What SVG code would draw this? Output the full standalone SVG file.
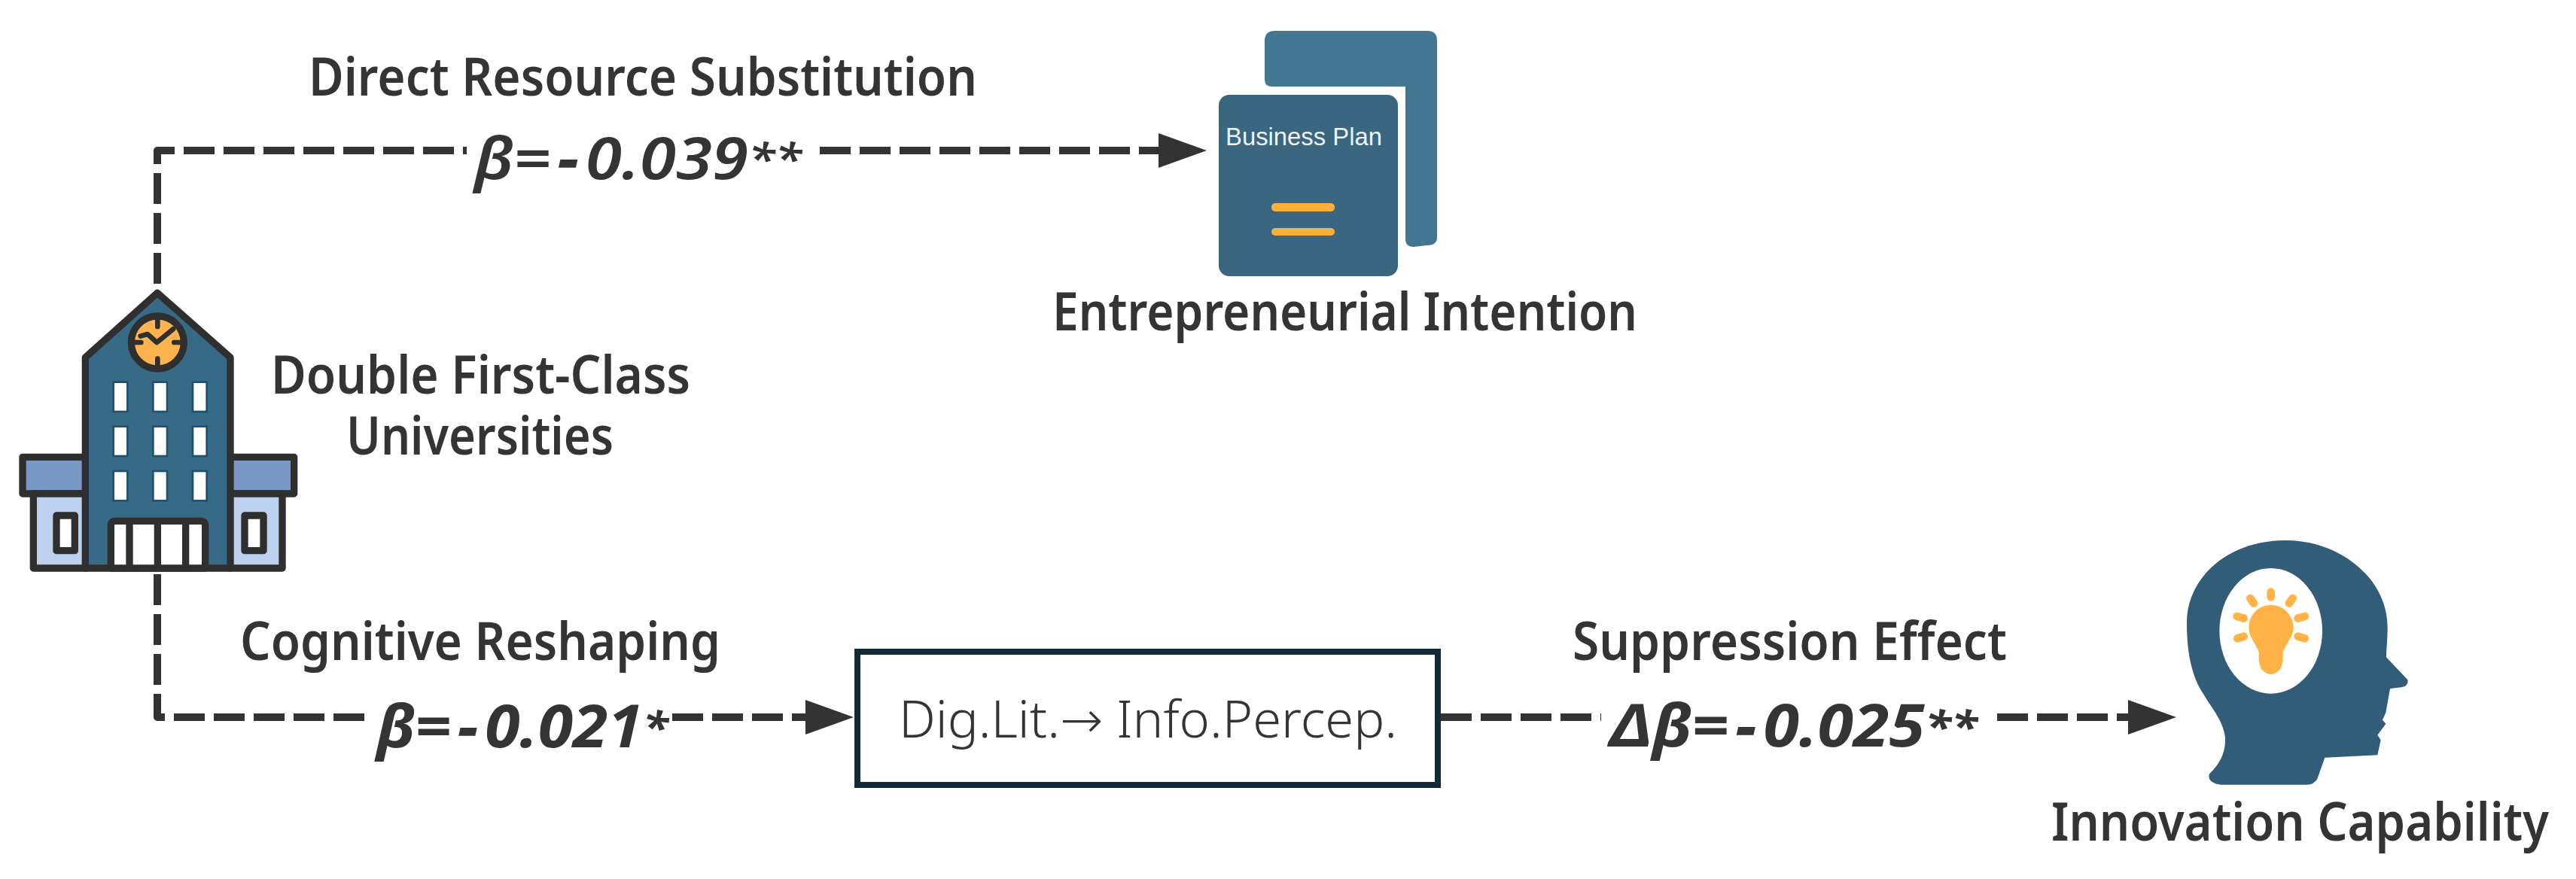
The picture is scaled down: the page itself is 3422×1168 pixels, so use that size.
<svg xmlns="http://www.w3.org/2000/svg" width="3422" height="1168" viewBox="0 0 3422 1168">
<style>
text{font-family:"Noto Sans","DejaVu Sans",sans-serif;fill:#343434}
.lbl{font-size:71px;font-weight:600}
.beta{font-size:78px;font-weight:600;font-style:italic}
.strong{font-weight:700}
.minus{font-weight:800}
.star{font-size:58px}
.box{font-size:68px;font-weight:300}
.dash{fill:none;stroke:#333;stroke-width:10;stroke-dasharray:41 12;stroke-linejoin:round}
.ol{stroke:#2f2f2f;stroke-width:28;stroke-linejoin:round}
.win{fill:#fff;stroke:#23516c;stroke-width:8}
.tick{fill:none;stroke:#2f2f2f;stroke-width:20;stroke-linecap:round;stroke-linejoin:round}
.ray{fill:none;stroke:#ffb347;stroke-width:32;stroke-linecap:round}
</style>
<defs>
<marker id="arrow" markerUnits="userSpaceOnUse" markerWidth="66" markerHeight="46" refX="0" refY="23" orient="auto"><path d="M0 0L64 23L0 46Z" fill="#333"/></marker>
</defs>
<rect width="3422" height="1168" fill="#fff"/>
<g id="connectors">
<path class="dash" d="M209 377V200H620"/>
<path class="dash" d="M1089 200H1539" marker-end="url(#arrow)"/>
<path class="dash" d="M209 763V953H486"/>
<path class="dash" d="M893 953H1070" marker-end="url(#arrow)"/>
<path class="dash" d="M1914 953H2127"/>
<path class="dash" d="M2653 953H2827" marker-end="url(#arrow)"/>
</g>
<g id="edge-labels">
<text class="lbl" x="410" y="127" textLength="888" lengthAdjust="spacingAndGlyphs">Direct Resource Substitution</text>
<text class="beta" x="630" y="238" textLength="435" lengthAdjust="spacingAndGlyphs">β=<tspan class="minus" dx="8">−</tspan><tspan dx="8">0.039</tspan><tspan class="star" dy="-6">**</tspan></text>
<text class="lbl" x="319" y="877" textLength="638" lengthAdjust="spacingAndGlyphs">Cognitive Reshaping</text>
<text class="beta strong" x="500" y="993" textLength="388" lengthAdjust="spacingAndGlyphs">β=<tspan class="minus" dx="8">−</tspan><tspan dx="8">0.021</tspan><tspan class="star" dy="-6">*</tspan></text>
<text class="lbl" x="2089" y="877" textLength="577" lengthAdjust="spacingAndGlyphs">Suppression Effect</text>
<text class="beta strong" x="2139" y="992" textLength="488" lengthAdjust="spacingAndGlyphs">Δβ=<tspan class="minus" dx="8">−</tspan><tspan dx="8">0.025</tspan><tspan class="star" dy="-6">**</tspan></text>
</g>
<g id="node-universities">
<g transform="translate(0 350) scale(.33333)">
<path class="ol" fill="#7a98c6" d="M90 772H345V918H90Z"/>
<path class="ol" fill="#7a98c6" d="M915 772H1172V918H915Z"/>
<path class="ol" fill="#bcd0ef" d="M133 918H345V1215H133Z"/>
<path class="ol" fill="#bcd0ef" d="M915 918H1125V1215H915Z"/>
<path class="ol" fill="#fff" d="M225 1005H298V1145H225Z"/>
<path class="ol" fill="#fff" d="M975 1005H1050V1145H975Z"/>
<path class="ol" fill="#376a87" d="M627 118L918 375V1215H340V375Z"/>
<rect class="win" x="452" y="473" width="56" height="118"/><rect class="win" x="610" y="473" width="56" height="118"/><rect class="win" x="768" y="473" width="56" height="118"/>
<rect class="win" x="452" y="650" width="56" height="118"/><rect class="win" x="610" y="650" width="56" height="118"/><rect class="win" x="768" y="650" width="56" height="118"/>
<rect class="win" x="452" y="828" width="56" height="118"/><rect class="win" x="610" y="828" width="56" height="118"/><rect class="win" x="768" y="828" width="56" height="118"/>
<path class="ol" fill="#fff" d="M442 1215V1045Q442 1027 460 1027H800Q818 1027 818 1045V1215Z"/>
<path class="ol" fill="none" d="M516 1027V1215M628 1027V1215M740 1027V1215"/>
<circle class="ol" cx="628" cy="315" r="105" fill="#fdb44f"/>
<path class="tick" d="M628 222V252M628 380V408M535 315H562M694 315H720M560 290L588 282L625 315L690 262"/>
</g>
<text class="lbl" x="360" y="523" textLength="557" lengthAdjust="spacingAndGlyphs">Double First-Class</text>
<text class="lbl" x="460" y="604" textLength="355" lengthAdjust="spacingAndGlyphs">Universities</text>
</g>
<g id="node-intention">
<path fill="#437691" d="M1694 41H1896Q1909 41 1909 54V315Q1909 326 1896 326L1878 328Q1867 328 1867 318V115H1690Q1680 115 1680 106V54Q1680 41 1694 41Z"/>
<rect x="1619" y="126" width="238" height="241" rx="14" fill="#3a6680"/>
<text x="1628" y="193" font-size="33" textLength="208" lengthAdjust="spacingAndGlyphs" style="font-family:'Liberation Sans',Arial,sans-serif;fill:#eef3f6">Business Plan</text>
<rect x="1689" y="270" width="84" height="11" rx="5" fill="#ffb03b"/>
<rect x="1689" y="303" width="84" height="10" rx="5" fill="#ffb03b"/>
<text class="lbl" x="1398" y="439" textLength="777" lengthAdjust="spacingAndGlyphs">Entrepreneurial Intention</text>
</g>
<g id="node-mediator">
<rect x="1139" y="866" width="771" height="177" fill="#fff" stroke="#12293a" stroke-width="8"/>
<text class="box" x="1194" y="980" textLength="662" lengthAdjust="spacingAndGlyphs">Dig.Lit.→ Info.Percep.</text>
</g>
<g id="node-innovation">
<g transform="translate(2850 730) scale(.33333)">
<path fill="#325d78" d="M255 895C290 860 320 820 318 750C310 680 260 630 215 550C180 480 165 400 165 290C165 120 320 -36 560 -36C780 -36 965 120 965 310C965 360 960 400 960 430L1045 520Q1050 545 1020 550L975 555L958 650L945 680L958 695L925 740L938 760L925 820L715 830L685 915Q670 940 640 938H300Q245 930 255 895Z"/>
<ellipse cx="500" cy="325" rx="205" ry="250" fill="#fff"/>
<path fill="#ffb347" d="M500 222C550 222 590 262 590 312C590 350 560 375 548 410V445L540 475Q520 498 500 498Q480 498 460 475L452 445V410C440 375 412 350 412 312C412 262 450 222 500 222Z"/>
<path class="ray" d="M500 170V190M418 195L432 215M587 195L573 215M365 267L392 275M635 267L608 275M367 355L392 347M635 355L608 347"/>
</g>
<text class="lbl" x="2725" y="1117" textLength="661" lengthAdjust="spacingAndGlyphs">Innovation Capability</text>
</g>
</svg>
